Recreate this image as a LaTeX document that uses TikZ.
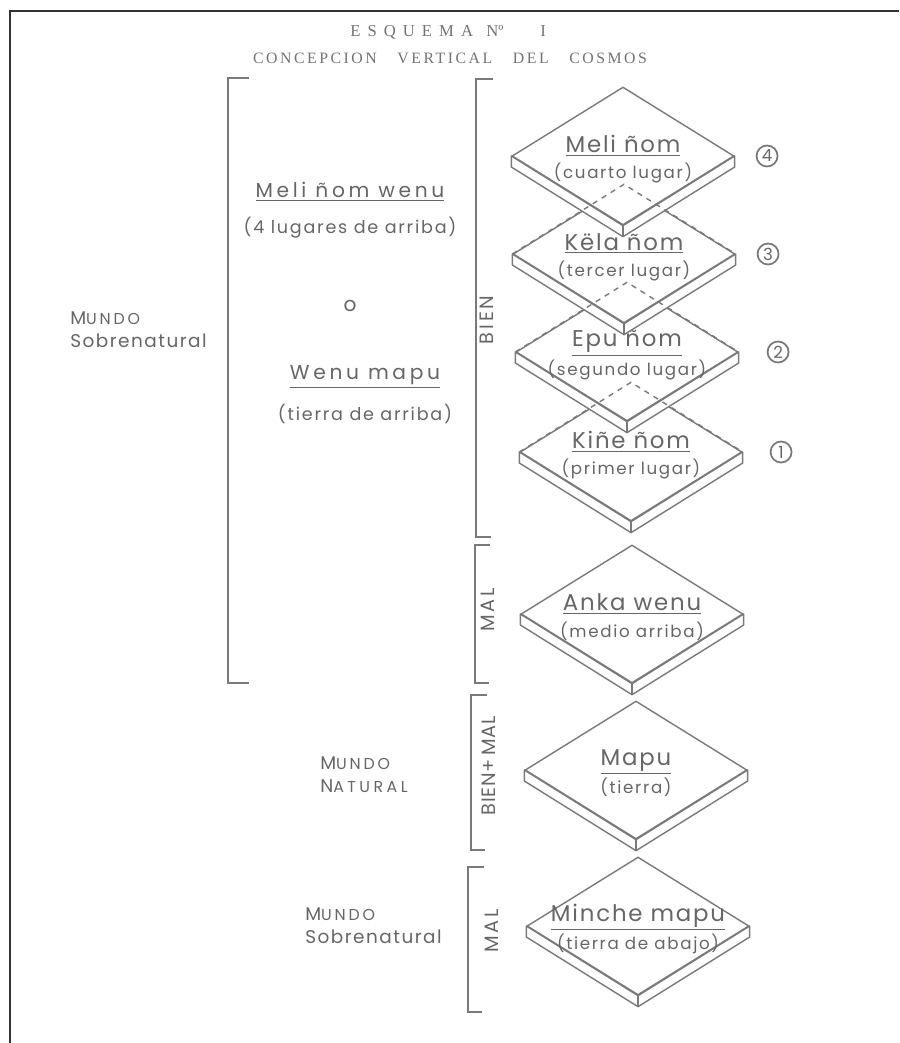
\documentclass[tikz,border=0pt]{standalone}
\usepackage{fontspec}
\setmainfont{Poppins}
\newfontfamily\titlefont{Liberation Serif}
\usetikzlibrary{shapes.geometric, positioning}

\definecolor{ink}{HTML}{7A7A7A}
\definecolor{pencil}{HTML}{666666}

\begin{document}
\begin{tikzpicture}[
    x=0.02cm, y=-0.02cm,
    frame/.style={draw=black!80, line width=1.2pt},
    title/.style={text=black!55, font=\titlefont\fontsize{9.5}{10}\selectfont, inner sep=0pt},
    bracket/.style={draw=ink, line width=1.1pt},
    slab/.style={diamond, draw=ink, fill=white, line width=0.8pt, minimum width=4.44cm, minimum height=2.76cm, inner sep=0pt},
    band/.style={draw=ink, fill=white, line width=0.8pt, line join=round},
    hidden/.style={draw=ink, line width=0.8pt, dash pattern=on 3pt off 3pt},
    slabtext/.style={align=center, text=pencil, font=\fontsize{13}{14}\selectfont\addfontfeature{LetterSpace=8}, inner sep=0pt},
    mid/.style={align=center, text=pencil, font=\fontsize{11.5}{12}\selectfont\addfontfeature{LetterSpace=18}, inner sep=0pt},
    midsub/.style={align=center, text=pencil, font=\fontsize{10}{11}\selectfont\addfontfeature{LetterSpace=10}, inner sep=0pt},
    world/.style={align=left, text=pencil, font=\fontsize{10.5}{13}\selectfont\addfontfeature{LetterSpace=8}, inner sep=0pt, anchor=west},
    side/.style={rotate=90, text=pencil, font=\fontsize{11}{11}\selectfont\addfontfeature{LetterSpace=15}, inner sep=0pt},
    num/.style={circle, draw=ink, line width=1pt, text=pencil, minimum size=0.42cm, inner sep=0pt, font=\fontsize{9.5}{9.5}\selectfont}
]
    \useasboundingbox (0,0) rectangle (899,1043);

    % page edge
    \draw[frame] (9,11) -- (899,11);
    \draw[frame] (10,11) -- (10,1043);

    % Heading
    \node[title, anchor=west] (esq) at (350,32) {{\addfontfeature{LetterSpace=42}ESQUEMA}\hspace{0.8em}Nº\hspace{2.2em}I};
    \node[title, font=\titlefont\fontsize{9}{10}\selectfont\addfontfeature{LetterSpace=16}] (cvc) at (450,58)
        {CONCEPCION\hspace{1.3em}VERTICAL\hspace{1.3em}DEL\hspace{1.3em}COSMOS};

    % Brackets
    \draw[bracket] (249,78) -- (228,78) -- (228,683) -- (249,683);
    \draw[bracket] (493,79) -- (476,79) -- (476,537) -- (491,537);
    \draw[bracket] (490,545) -- (475,545) -- (475,683) -- (489,683);
    \draw[bracket] (487,695) -- (471,695) -- (471,850) -- (485,850);
    \draw[bracket] (484,867) -- (468,867) -- (468,1012) -- (482,1012);

    % Good and evil
    \node[side] (bien) at (487,320) {BIEN};
    \node[side] (mal1) at (488,610) {MAL};
    \node[side, font=\fontsize{11}{11}\selectfont\addfontfeature{LetterSpace=4}] (bm) at (489,766) {BIEN+\,MAL};
    \node[side] (mal2) at (492,931) {MAL};

    % Worlds
    \node[world] (w1) at (70,330) {{\addfontfeature{LetterSpace=18}M{\fontsize{9}{9}\selectfont UNDO}}\\Sobrenatural};
    \node[world] (w2) at (320,775) {{\addfontfeature{LetterSpace=18}M{\fontsize{9}{9}\selectfont UNDO}}\\
        {\addfontfeature{LetterSpace=22}N{\fontsize{9}{9}\selectfont ATURAL}}};
    \node[world] (w3) at (305,926) {{\addfontfeature{LetterSpace=18}M{\fontsize{9}{9}\selectfont UNDO}}\\Sobrenatural};

    % Upper land
    \node[mid] (mw) at (350,192) {\underline{Meli ñom wenu}};
    \node[midsub, below=0.3cm of mw] (mwsub) {(4 lugares de arriba)};
    \node[mid] (oword) at (350,306) {o};
    \node[mid] (wm) at (365,377) {\underline{Wenu mapu}};
    \node[midsub, below=0.3cm of wm] (wmsub) {(tierra de arriba)};

    % Slabs, from the bottom up
    \foreach \n/\x/\y/\a/\b in {
        mi/638/926/Minche mapu/tierra de abajo,
        ma/636/770/Mapu/tierra,
        an/632/614/Anka wenu/medio arriba,
        k1/631/452/Kiñe ñom/primer lugar,
        k2/627/352/Epu ñom/segundo lugar,
        k3/624/254/Këla ñom/tercer lugar,
        k4/623/156/Meli ñom/cuarto lugar}{
        \node[slab] (\n) at (\x,\y) {};
        \filldraw[band] (\n.west) -- ([yshift=-0.22cm]\n.west) -- ([yshift=-0.22cm]\n.south)
            -- ([yshift=-0.22cm]\n.east) -- (\n.east) -- (\n.south) -- cycle;
        \draw[band] (\n.south) -- ([yshift=-0.22cm]\n.south);
        \node[slabtext] (t\n) at ([yshift=-0.06cm]\n.center)
            {\underline{\a}\\[1pt]{\fontsize{9.5}{10}\selectfont\addfontfeature{LetterSpace=10}(\b)}};
    }

    % hidden corners
    \foreach \n in {k3,k2,k1}
        \draw[hidden] (\n.west) -- (\n.north) -- (\n.east);

    % Places
    \node[num, right=0.42cm of k4] (n4) {4};
    \node[num, right=0.42cm of k3] (n3) {3};
    \node[num, right=0.56cm of k2] (n2) {2};
    \node[num, right=0.54cm of k1] (n1) {1};

\end{tikzpicture}
\end{document}
